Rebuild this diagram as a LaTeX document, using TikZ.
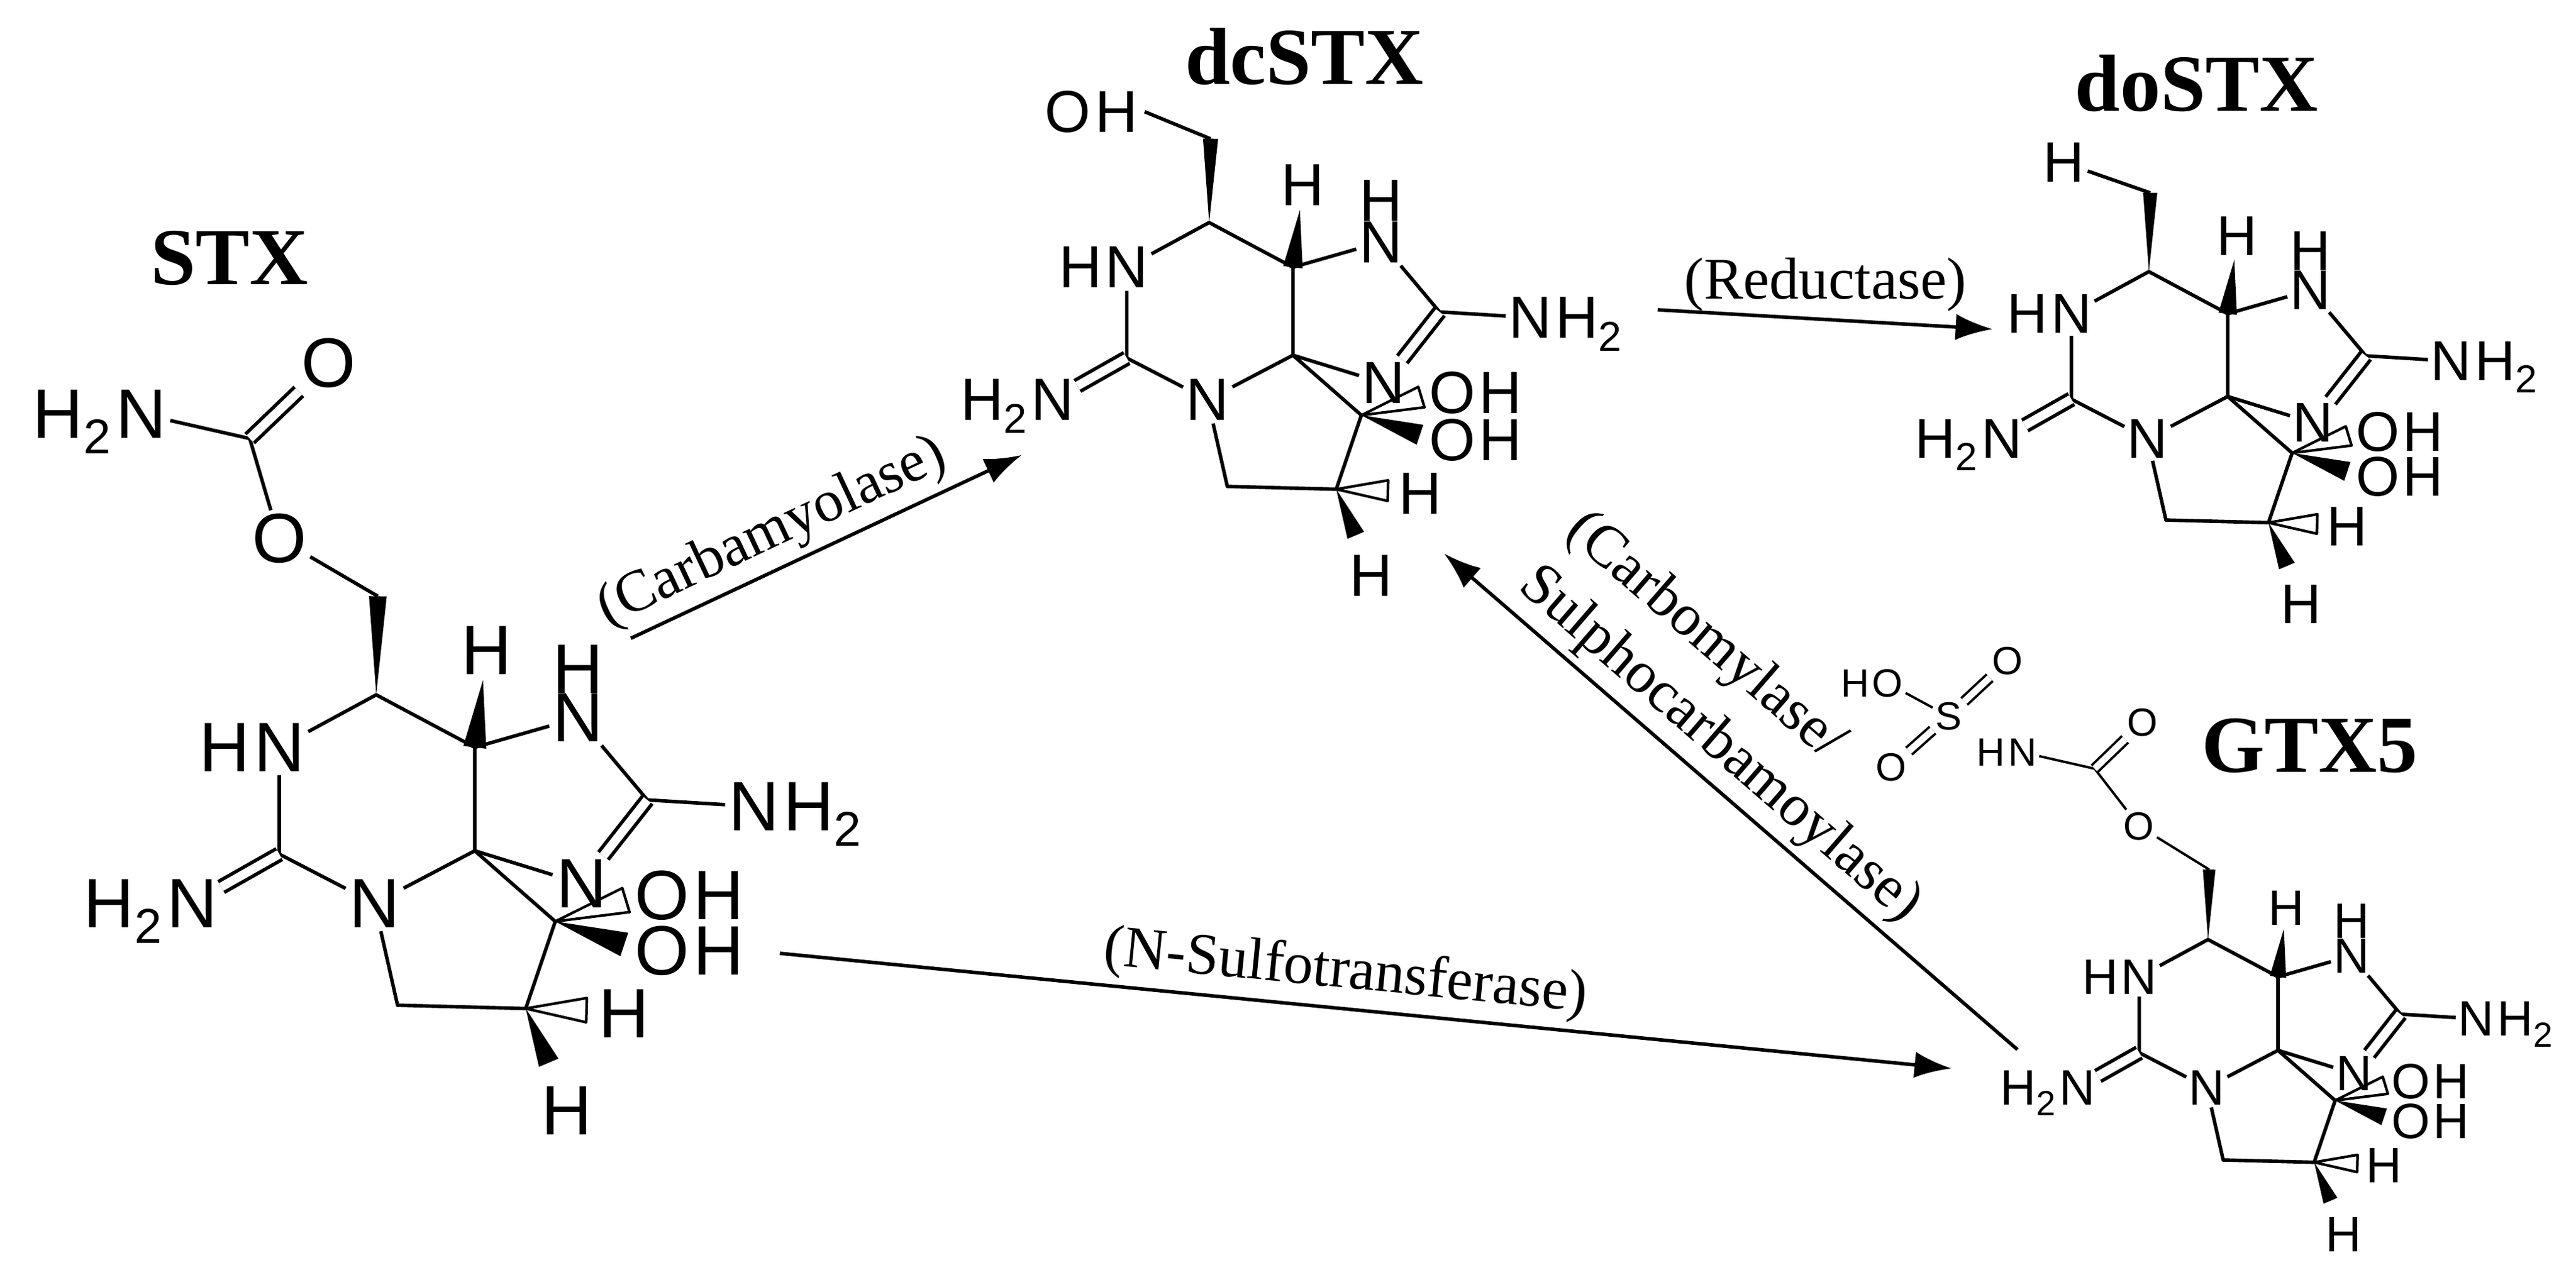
\documentclass[tikz,border=0pt]{standalone}
\usepackage{fontspec}
\setmainfont{Liberation Serif}
\setsansfont{Liberation Sans}
\usetikzlibrary{positioning,calc,arrows.meta}

\tikzset{
  atom/.style={font=\fontsize{32}{32}\selectfont\sffamily, inner sep=1.5pt},
  bond/.style={line width=1.6pt},
  dbond/.style={line width=1.6pt, double, double distance=4pt},
  title/.style={font=\fontsize{37}{37}\selectfont\bfseries},
  enzyme/.style={font=\fontsize{27}{33}\selectfont, inner sep=3pt},
  react/.style={line width=1.6pt, -{Latex[length=17pt,width=12pt]}},
}

% filled and open stereo wedges (tip, base, half width as fraction)
\newcommand{\wedgebond}[3]{\fill (#1) -- ($(#2)!#3!90:(#1)$) -- ($(#2)!#3!-90:(#1)$) -- cycle;}
\newcommand{\hashbond}[3]{\draw[line width=1.2pt, line join=round] (#1) -- ($(#2)!#3!90:(#1)$) -- ($(#2)!#3!-90:(#1)$) -- cycle;}

% tricyclic core: prefix, x, y, scale
\newcommand{\sxcore}[4]{%
\begin{scope}[shift={(#2,-#3)}, scale=#4, transform shape, name prefix=#1-]
  \coordinate (c6) at (0,0);
  \coordinate (ch2) at (1,60);
  \node[atom] (n1) at (-59,-32) {N};
  \node[atom, anchor=base east, inner sep=0pt] at (n1.base west) {H};
  \coordinate (c2) at (-59,-97);
  \node[atom] (n2) at (-112,-127) {N};
  \node[atom, anchor=base east, inner sep=0pt] at (n2.base west) {H\textsubscript{2}};
  \node[atom] (n3) at (-1,-127) {N};
  \coordinate (c4) at (60,-95);
  \coordinate (c5) at (60,-32);
  \node[atom] (h5) at (67,27) {H};
  \coordinate (hw5) at (65,9);
  \node[atom] (n7) at (123,-14) {N};
  \node[atom, above=-3pt of n7] {H};
  \coordinate (c8) at (165,-64);
  \node[atom] (nh2) at (230,-68) {N};
  \node[atom, anchor=base west, inner sep=0pt] at (nh2.base east) {H\textsubscript{2}};
  \node[atom] (n9) at (125,-115) {N};
  \coordinate (c12) at (109,-138);
  \node[atom] (o1) at (174,-122) {O};
  \node[atom, anchor=base west, inner sep=0pt] at (o1.base east) {H};
  \node[atom] (o2) at (174,-156) {O};
  \node[atom, anchor=base west, inner sep=0pt] at (o2.base east) {H};
  \coordinate (hw1) at (152,-125);
  \coordinate (hw2) at (151,-152);
  \coordinate (c10) at (13,-189);
  \coordinate (c11) at (91,-191);
  \node[atom] (h11) at (151,-194) {H};
  \node[atom] (h11b) at (116,-253) {H};
  \coordinate (hw3) at (128,-192);
  \coordinate (hw4) at (105,-224);
  \draw[bond, line join=round] (n1) -- (c6) -- (c5) -- (c4) -- (n3) -- (c2) -- (n1);
  \draw[bond, line join=round] (c5) -- (n7) -- (c8) -- (nh2);
  \draw[bond] (c4) -- (n9);
  \draw[bond, line join=round] (n3) -- (c10) -- (c11) -- (c12) -- (c4);
  \draw[dbond] (c2) -- (n2);
  \draw[dbond] (c8) -- (n9);
  \wedgebond{c6}{ch2}{0.09}
  \wedgebond{hw5}{c5}{0.17}
  \hashbond{c12}{hw1}{0.17}
  \wedgebond{c12}{hw2}{0.17}
  \hashbond{c11}{hw3}{0.2}
  \wedgebond{c11}{hw4}{0.18}
\end{scope}}

\begin{document}
\begin{tikzpicture}[x=0.0264cm, y=0.0264cm]
\useasboundingbox (0,0) rectangle (1568,-773);

\sxcore{stx}{229}{423}{1}
\sxcore{dc}{736}{135.5}{0.85}
\sxcore{do}{1308}{165.4}{0.80}
\sxcore{gtx}{1344}{572}{0.71}

% STX carbamate
\node[atom] (stx-oe) at (170,-328) {O};
\coordinate (stx-cc) at (152,-267);
\node[atom] (stx-od) at (200,-221) {O};
\node[atom] (stx-na) at (86,-252) {N};
\node[atom, anchor=base east, inner sep=0pt] at (stx-na.base west) {H\textsubscript{2}};
\draw[bond, line join=round] (stx-ch2) -- (stx-oe) -- (stx-cc) -- (stx-na);
\draw[dbond] (stx-cc) -- (stx-od);

% dcSTX hydroxymethyl
\node[atom, font=\fontsize{27}{27}\selectfont\sffamily] (dc-oh) at (650,-68) {O};
\node[atom, font=\fontsize{27}{27}\selectfont\sffamily, anchor=base west, inner sep=0pt] (dc-ohh) at (dc-oh.base east) {H};
\draw[bond] (dc-ch2) -- ([xshift=3pt]dc-ohh.east);

% doSTX methyl
\node[atom, font=\fontsize{26}{26}\selectfont\sffamily] (do-h) at (1256,-99) {H};
\draw[bond] (do-ch2) -- (do-h);

% GTX5 sulfocarbamate
\tikzset{small/.style={atom, font=\fontsize{18}{18}\selectfont\sffamily, inner sep=1pt}}
\node[small] (gtx-oe) at (1302,-503) {O};
\coordinate (gtx-cc) at (1275,-468);
\node[small] (gtx-od) at (1304,-440) {O};
\node[small] (gtx-nh) at (1231,-458) {N};
\node[small, anchor=base east, inner sep=0pt] at (gtx-nh.base west) {H};
\node[small] (gtx-s) at (1186,-436) {S};
\node[small] (gtx-ho) at (1149,-416) {O};
\node[small, anchor=base east, inner sep=0pt] at (gtx-ho.base west) {H};
\node[small] (gtx-o1) at (1151,-467) {O};
\node[small] (gtx-o2) at (1222,-402.5) {O};
\draw[line width=1.1pt, line join=round] (gtx-ch2) -- (gtx-oe) -- (gtx-cc) -- (gtx-nh);
\draw[line width=1.1pt, double, double distance=3pt] (gtx-cc) -- (gtx-od);
\draw[line width=1.1pt] (gtx-s) -- (gtx-ho);
\draw[line width=1.1pt, double, double distance=3pt] (gtx-s) -- (gtx-o1);
\draw[line width=1.1pt, double, double distance=3pt] (gtx-s) -- (gtx-o2);

% titles
\node[title] (t-stx) at (139.6,-157) {STX};
\node[title] (t-dc) at (794,-34.5) {dcSTX};
\node[title] (t-do) at (1337,-50.7) {doSTX};
\node[title] (t-gtx) at (1406,-454) {GTX5};

% reactions
\coordinate (a1s) at (384,-388.6);
\coordinate (a1e) at (622,-277);
\coordinate (a2s) at (1009,-188.6);
\coordinate (a2e) at (1213,-200.4);
\coordinate (a3s) at (474.7,-580.4);
\coordinate (a3e) at (1188,-650.5);
\coordinate (a4s) at (1228,-639);
\coordinate (a4e) at (879,-337);
\draw[react] (a1s) -- node[enzyme, sloped, above, pos=0.4] {(Carbamyolase)} (a1e);
\draw[react] (a2s) -- node[enzyme, above] {(Reductase)} (a2e);
\draw[react] (a3s) -- node[enzyme, sloped, above, pos=0.48] {(N-Sulfotransferase)} (a3e);
\draw[react] (a4s) -- node[enzyme, sloped, above, pos=0.56, align=left] {(Carbomylase/\\Sulphocarbamoylase)} (a4e);
\end{tikzpicture}
\end{document}
